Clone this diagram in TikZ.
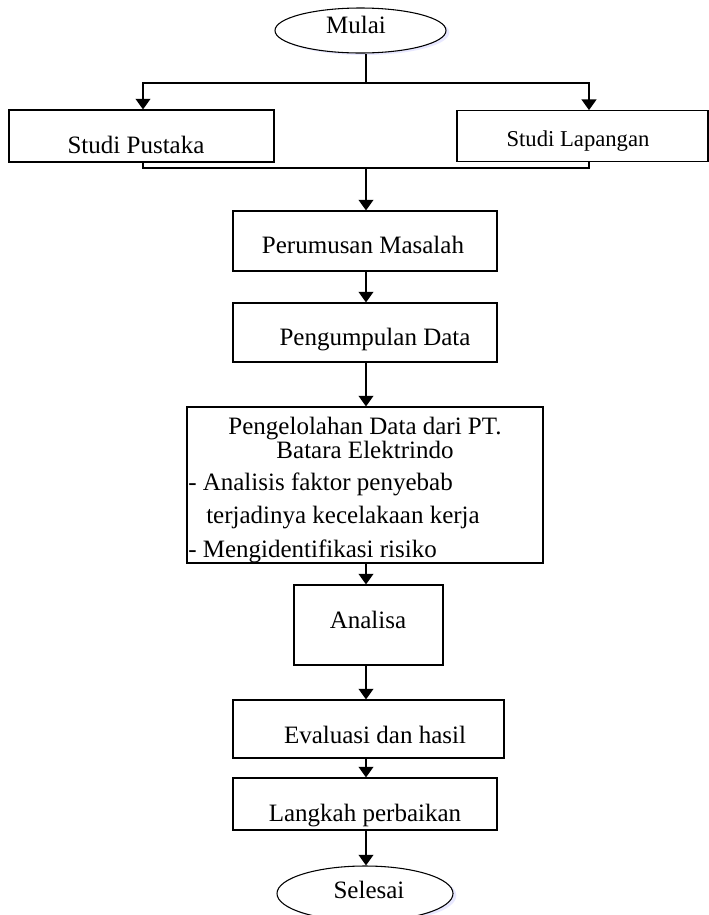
\documentclass[tikz,border=0pt]{standalone}
\usepackage{fontspec}
\setmainfont{Liberation Serif}
\usetikzlibrary{arrows.meta,shapes.geometric,shadows}
\begin{document}
\begin{tikzpicture}[x=0.75pt,y=-0.75pt,
  box/.style={draw, line width=0.8pt, inner sep=0pt, fill=white, rectangle},
  term/.style={draw, ellipse, line width=0.8pt, inner sep=0pt, fill=white,
    drop shadow={fill=blue!15!white, opacity=0.6, shadow xshift=2.5pt, shadow yshift=-1.5pt}},
  txt/.style={inner sep=0pt, anchor=base, font=\fontsize{18.75}{22}\selectfont},
  txtl/.style={txt, anchor=base west},
  ln/.style={line width=1.5pt},
  arr/.style={line width=1.5pt, -{Triangle[width=11pt,length=8pt]}}
]
\useasboundingbox (0,0) rectangle (709,915);
\clip (0,0) rectangle (709,915);
\fill[white] (0,0) rectangle (709,915);

% coordinates for connector columns
\coordinate (cx) at (366,0);
\coordinate (lx) at (143,0);
\coordinate (rx) at (589,0);
\coordinate (sp) at (366,83);
\coordinate (jn) at (366,168);

% shapes
\node[term, minimum width=128.25pt, minimum height=33.75pt] (mulai) at (360.5,30.5) {};
\node[box, minimum width=198.75pt, minimum height=39pt] (spus) at (141.5,136) {};
\node[box, minimum width=188.25pt, minimum height=38pt] (slap) at (582.5,136) {};
\node[box, minimum width=198pt, minimum height=45pt] (perum) at (365,241) {};
\node[box, minimum width=198pt, minimum height=44.25pt] (pengump) at (365,332.5) {};
\node[box, minimum width=267pt, minimum height=117pt] (pengel) at (365,485) {};
\node[box, minimum width=111.75pt, minimum height=60pt] (ana) at (368.5,625) {};
\node[box, minimum width=203.25pt, minimum height=43.5pt] (eval) at (368.5,729) {};
\node[box, minimum width=198pt, minimum height=39pt] (lang) at (365,804) {};
\node[term, minimum width=132pt, minimum height=41.25pt] (selesai) at (365,893.5) {};

% texts
\node[txt] (tmulai) at (356,33) {Mulai};
\node[txt] (tspus) at (136,153) {Studi Pustaka};
\node[txt, font=\fontsize{17}{20}\selectfont] (tslap) at (578,146) {Studi Lapangan};
\node[txt] (tperum) at (363,253) {Perumusan Masalah};
\node[txt] (tpengump) at (375,345) {Pengumpulan Data};
\node[txt] (tpg1) at (365,434) {Pengelolahan Data dari PT.};
\node[txt] (tpg2) at (365,458) {Batara Elektrindo};
\node[txtl] (tpg3) at (188,490) {- Analisis faktor penyebab};
\node[txtl] (tpg4) at (206,523) {terjadinya kecelakaan kerja};
\node[txtl] (tpg5) at (188,557) {- Mengidentifikasi risiko};
\node[txt] (tana) at (368,628) {Analisa};
\node[txt] (teval) at (375,743) {Evaluasi dan hasil};
\node[txt] (tlang) at (365,821) {Langkah perbaikan};
\node[txt] (tselesai) at (369,898) {Selesai};

% connectors
\draw[ln] (mulai.south -| cx) -- (sp);
\draw[arr] (sp) -| (spus.north -| lx);
\draw[arr] (sp) -| (slap.north -| rx);
\draw[ln] (spus.south -| lx) |- (jn);
\draw[ln] (slap.south -| rx) |- (jn);
\draw[arr] (jn) -- (perum.north -| cx);
\draw[arr] (perum.south -| cx) -- (pengump.north -| cx);
\draw[arr] (pengump.south -| cx) -- (pengel.north -| cx);
\draw[arr] (pengel.south -| cx) -- (ana.north -| cx);
\draw[arr] (ana.south -| cx) -- (eval.north -| cx);
\draw[arr] (eval.south -| cx) -- (lang.north -| cx);
\draw[arr] (lang.south -| cx) -- (selesai.north -| cx);
\end{tikzpicture}
\end{document}
